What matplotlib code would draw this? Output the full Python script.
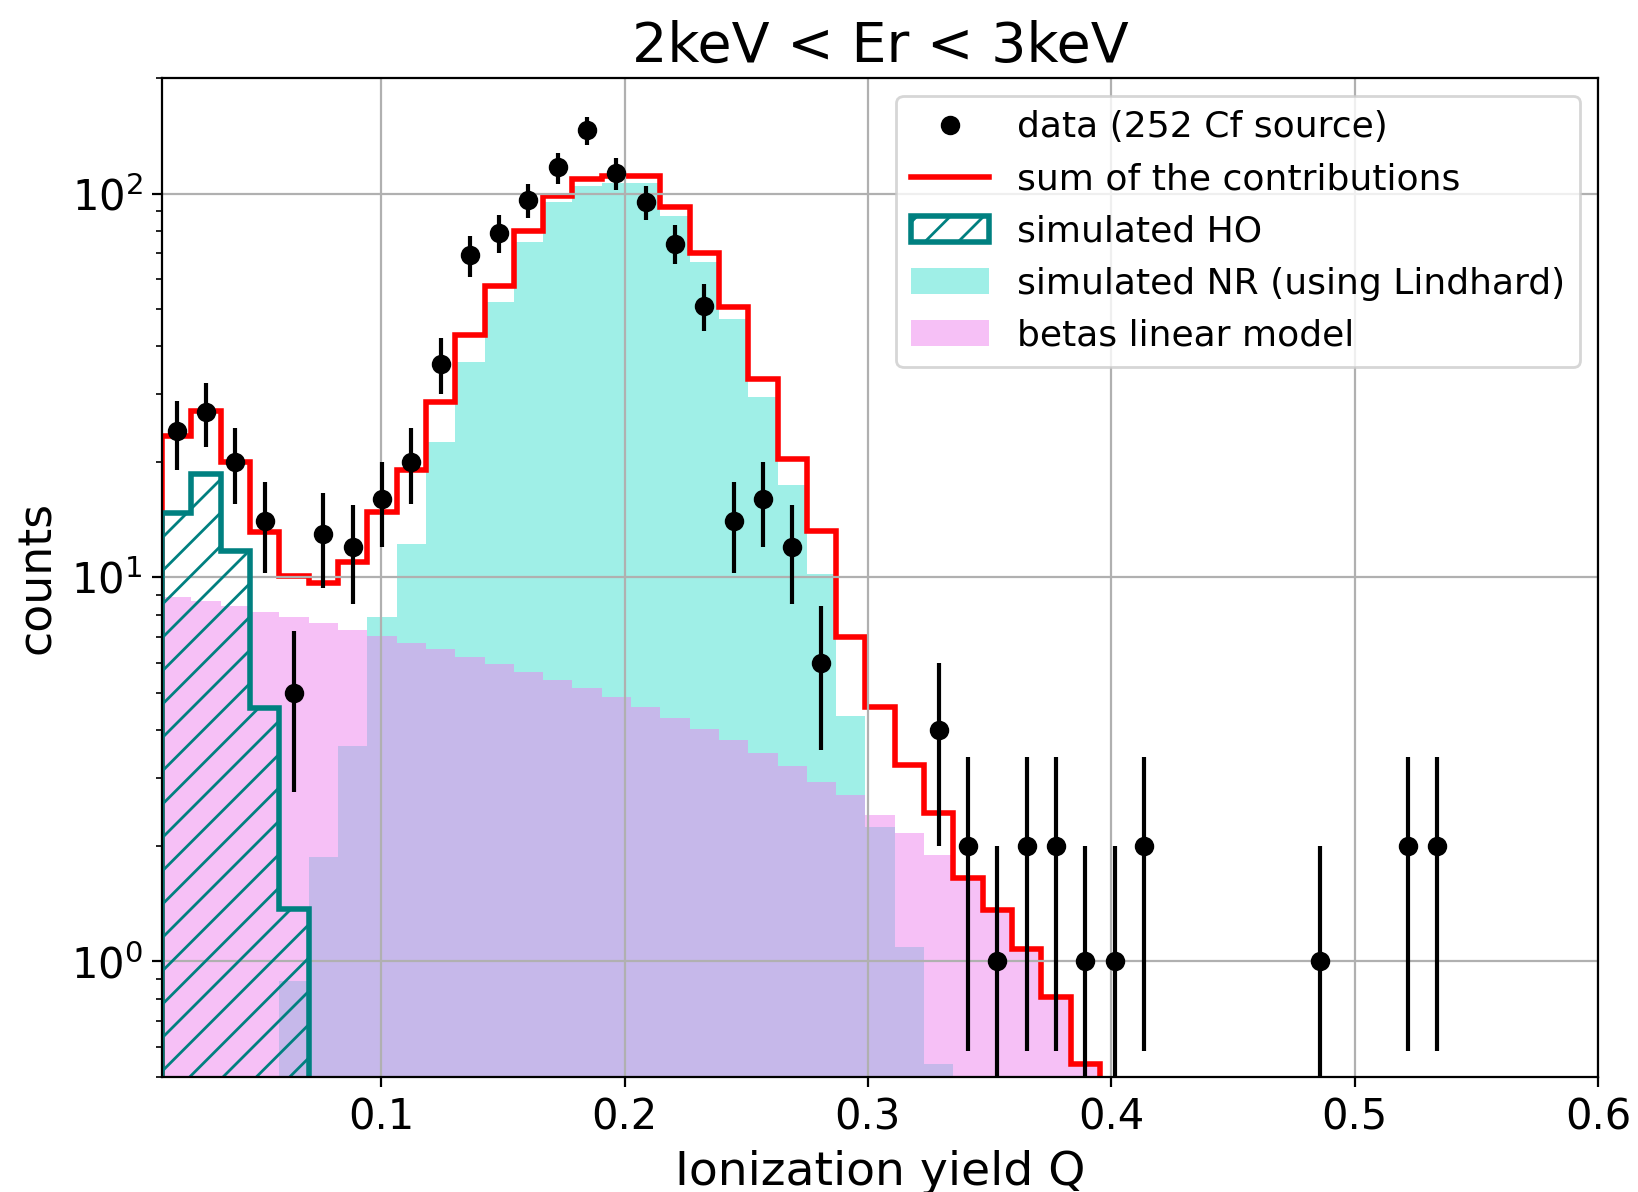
import numpy as np
import matplotlib
matplotlib.use("Agg")
import matplotlib.pyplot as plt

# ============================================================
# binned Q spectrum, 2 keV < Er < 3 keV  (49 bins from 0.01 to 0.6)
# ============================================================

q_edges = np.linspace(0.01, 0.6, 50)

# measured counts per bin (252Cf source)
data_counts = [24, 27, 20, 14, 5, 13, 12, 16, 20, 36,
               69, 79, 96, 117, 146, 113, 95, 74, 51, 14,
               16, 12, 6, 0, 0, 0, 4, 2, 1, 2,
               2, 1, 1, 2, 0, 0, 0, 0, 0, 1,
               0, 0, 2, 2, 0, 0, 0, 0, 0]

# sum of the contributions (red line)
sum_model = [23.4, 27.2, 20.0, 13.1, 10.1, 9.7, 11.0, 14.8, 19.1, 28.7,
             42.9, 57.4, 80.0, 98.4, 109.0, 111.0, 111.0, 92.0, 69.8, 50.5,
             32.8, 20.4, 13.2, 7.0, 4.6, 3.25, 2.44, 1.65, 1.36, 1.08,
             0.81, 0.54, 0.27, 0, 0, 0, 0, 0, 0, 0,
             0, 0, 0, 0, 0, 0, 0, 0, 0]

# simulated heat-only events
ho_sim = [14.7, 18.6, 11.7, 4.56, 1.37] + [0] * 44

# simulated nuclear recoils (Lindhard)
nr_sim = [0, 0, 0, 0, 0.89, 1.87, 3.64, 7.87, 12.2, 22.5,
          36.5, 52.2, 75.0, 94.8, 104.4, 106.6, 106.8, 87.5, 66.2, 47.0,
          29.5, 17.4, 10.2, 4.36, 2.24, 1.09, 0.54, 0.12, 0, 0,
          0, 0, 0, 0, 0, 0, 0, 0, 0, 0,
          0, 0, 0, 0, 0, 0, 0, 0, 0]

# betas, linear model
beta_model = [8.87, 8.69, 8.42, 8.11, 7.87, 7.59, 7.29, 7.02, 6.73, 6.50,
              6.21, 5.95, 5.68, 5.40, 5.15, 4.87, 4.60, 4.31, 4.03, 3.77,
              3.49, 3.22, 2.94, 2.71, 2.41, 2.16, 1.89, 1.64, 1.35, 1.08,
              0.81, 0.54, 0.27, 0, 0, 0, 0, 0, 0, 0,
              0, 0, 0, 0, 0, 0, 0, 0, 0]

centers = 0.5 * (q_edges[:-1] + q_edges[1:])
data = np.array(data_counts, dtype=float)

fig, ax = plt.subplots(figsize=(8.19, 5.96), dpi=200)
fig.subplots_adjust(left=0.099, right=0.9756, bottom=0.0965, top=0.9346)
ax.set_yscale("log")

# fills: NR first, betas on top (overlap gives the lavender)
h_nr = ax.stairs(nr_sim, q_edges, fill=True, color="turquoise", alpha=0.5,
                 linewidth=0, label="simulated NR (using Lindhard)")
h_beta = ax.stairs(beta_model, q_edges, fill=True, color="violet", alpha=0.5,
                   linewidth=0, label="betas linear model")

# HO as hatched step histogram
_, _, h_ho = ax.hist(centers, bins=q_edges, weights=ho_sim, histtype="step",
                     hatch="//", color="teal", linewidth=2, label="simulated HO")

h_sum = ax.stairs(sum_model, q_edges, color="red", linewidth=2,
                  label="sum of the contributions")

# data points with poisson errors (empty bins are not drawn)
nz = data > 0
h_data = ax.errorbar(centers[nz], data[nz], yerr=np.sqrt(data[nz]), fmt="o",
                     color="black", markersize=6, elinewidth=1.5, zorder=5)

ax.set_xlim(0.01, 0.6)
ax.set_ylim(0.5, 200)
ax.grid(True)
ax.tick_params(labelsize=15)
ax.set_xlabel("Ionization yield Q", fontsize=17)
ax.set_ylabel("counts", fontsize=16.5)
ax.set_title("2keV < Er < 3keV", fontsize=20)

ax.legend(handles=[h_data[0], h_sum, h_ho[0], h_nr, h_beta],
          labels=["data (252 Cf source)", "sum of the contributions",
                  "simulated HO", "simulated NR (using Lindhard)",
                  "betas linear model"],
          loc="upper right", fontsize=13, handlelength=2.15)

plt.savefig("out.png", dpi=200)
plt.close()
